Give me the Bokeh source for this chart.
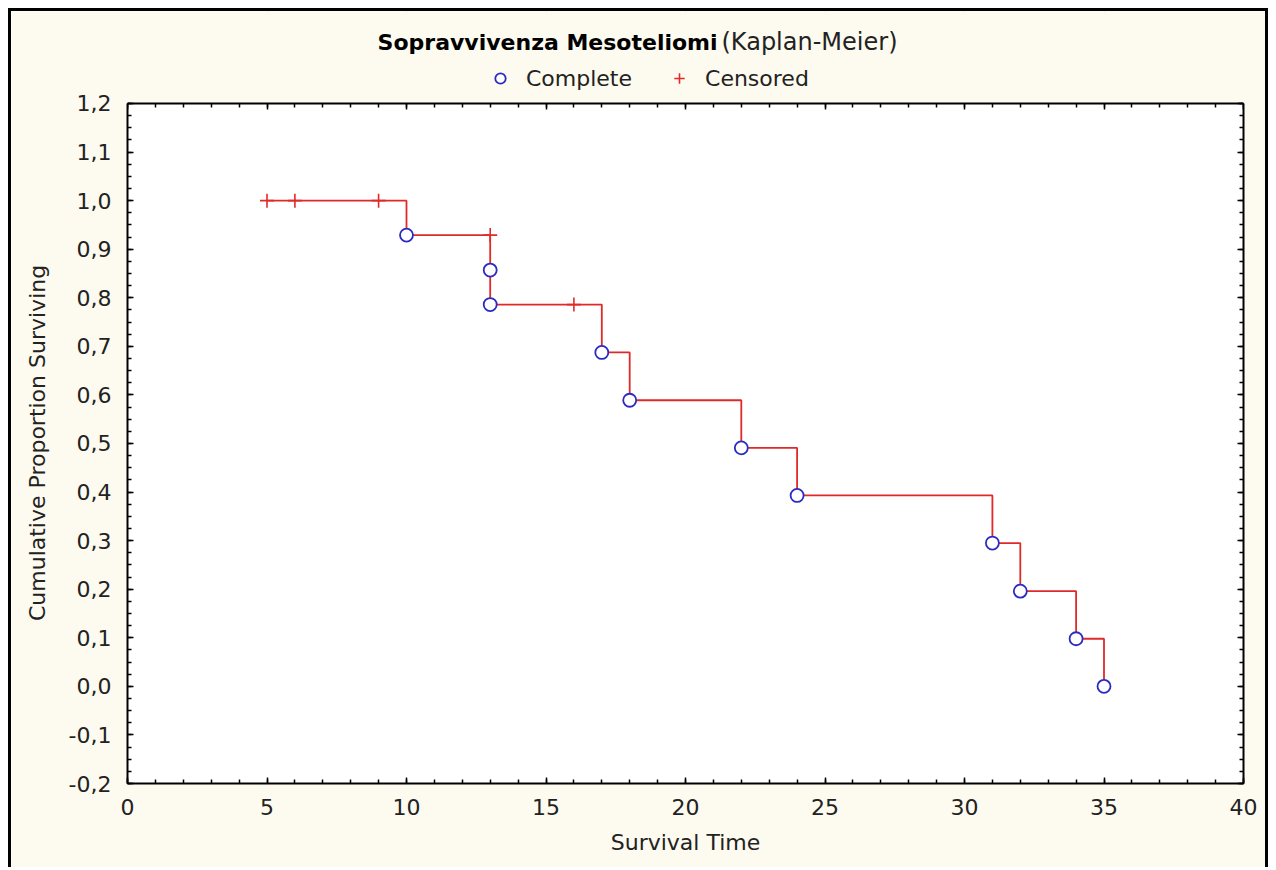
from bokeh.plotting import figure
from bokeh.models import (Range1d, LinearAxis, FixedTicker, CustomJSTickFormatter,
                          Legend, LegendItem, Label)
from bokeh.embed import file_html
from bokeh.resources import INLINE

# ---- data ----
time_complete = [10, 13, 13, 17, 18, 22, 24, 31, 32, 34, 35]
surv_complete = [0.929, 0.857, 0.786, 0.6875, 0.589, 0.491, 0.393, 0.295, 0.196, 0.098, 0.0]
time_censored = [5, 6, 9, 13, 16]
surv_censored = [1.0, 1.0, 1.0, 0.929, 0.786]
start_time = 5
start_surv = 1.0

x_major_ticks = [0, 5, 10, 15, 20, 25, 30, 35, 40]
x_minor_ticks = list(range(0, 41))
y_major_ticks = [-0.2, -0.1, 0.0, 0.1, 0.2, 0.3, 0.4, 0.5, 0.6, 0.7, 0.8, 0.9, 1.0, 1.1, 1.2]
y_minor_ticks = [round(-0.2 + 0.025 * i, 3) for i in range(57)]

x_min, x_max = 0, 40
y_min, y_max = -0.2, 1.2

title_bold = "Sopravvivenza Mesoteliomi"
title_rest = "(Kaplan-Meier)"
x_label = "Survival Time"
y_label = "Cumulative Proportion Surviving"

# step path built from the events
step_x = [start_time]
step_y = [start_surv]
prev = start_surv
for t, s in zip(time_complete, surv_complete):
    step_x += [t, t]
    step_y += [prev, s]
    prev = s

FONT = "DejaVu Sans"
FS = "22px"
BG = "#FDFAEF"
RED = "#E02A2A"
BLUE = "#2B2BC4"
TXT = "#222222"

# frame extends above the plot box so title/legend live inside it
y_top = 1.3894

p = figure(width=1260, height=859, output_backend="svg", toolbar_location=None,
           x_range=Range1d(x_min, x_max), y_range=Range1d(y_min, y_top),
           min_border_left=116, min_border_right=28, min_border_top=0, min_border_bottom=87,
           background_fill_color=BG, border_fill_color=BG,
           styles={"margin": "8px 0px 0px 8px",
                   "border-top": "3px solid black", "border-left": "3px solid black",
                   "border-right": "3px solid black"})
p.outline_line_alpha = 0

# white plotting box
p.quad(left=[x_min], right=[x_max], bottom=[y_min], top=[y_max],
       fill_color="white", line_color=None)

xt = FixedTicker(ticks=x_major_ticks, minor_ticks=x_minor_ticks)
yt = FixedTicker(ticks=y_major_ticks, minor_ticks=y_minor_ticks)
yfmt = CustomJSTickFormatter(code="return tick.toFixed(1).replace('.', ',');")
blank = CustomJSTickFormatter(code="return '';")

def style_axis(ax):
    ax.axis_line_color = "black"
    ax.axis_line_width = 2
    ax.major_tick_in = 6
    ax.major_tick_out = 0
    ax.minor_tick_in = 4
    ax.minor_tick_out = 0
    ax.major_tick_line_color = "black"
    ax.minor_tick_line_color = "black"
    ax.major_tick_line_width = 1.5
    ax.minor_tick_line_width = 1.5
    ax.major_label_text_font = FONT
    ax.major_label_text_font_size = FS
    ax.major_label_text_color = TXT
    ax.axis_label_text_font = FONT
    ax.axis_label_text_font_size = FS
    ax.axis_label_text_font_style = "normal"
    ax.axis_label_text_color = TXT

p.xaxis.ticker = xt
p.yaxis.ticker = yt
p.yaxis.formatter = yfmt
p.yaxis.bounds = (y_min, y_max)
p.xaxis.axis_label = x_label
# non-breaking padding keeps the label centred on the plot box, not the taller frame
p.yaxis.axis_label = y_label + "\u00a0" * 13
for ax in p.xaxis + p.yaxis:
    style_axis(ax)
p.xaxis.major_label_standoff = 15
p.xaxis.axis_label_standoff = 12
p.yaxis.major_label_standoff = 16
p.yaxis.axis_label_standoff = 16

top_ax = LinearAxis(ticker=xt, formatter=blank, fixed_location=y_max)
right_ax = LinearAxis(ticker=yt, formatter=blank, bounds=(y_min, y_max))
style_axis(top_ax)
style_axis(right_ax)
p.add_layout(top_ax, "above")
p.add_layout(right_ax, "right")

p.xgrid.ticker = xt
p.ygrid.ticker = yt
for g in (p.xgrid, p.ygrid):
    g.grid_line_color = "#a8a8a8"
    g.grid_line_dash = "1 2"
    g.grid_line_width = 1

# cream band above the plot box hides the grid there
p.quad(left=[x_min], right=[x_max], bottom=[y_max], top=[y_top],
       fill_color=BG, line_color=None)

p.line(step_x, step_y, line_color=RED, line_width=1.8)
r_cens = p.scatter(time_censored, surv_censored, marker="cross", size=14,
                   line_color=RED, line_width=1.6)
r_comp = p.scatter(time_complete, surv_complete, marker="circle", size=13,
                   line_color=BLUE, fill_color="white", line_width=1.8)

legend = Legend(items=[LegendItem(label="Complete", renderers=[r_comp]),
                       LegendItem(label="Censored", renderers=[r_cens])],
                orientation="horizontal", location=(360, 692), padding=0, margin=0,
                spacing=34, border_line_alpha=0, background_fill_alpha=0,
                label_text_font=FONT, label_text_font_size=FS, label_text_color=TXT,
                label_standoff=13, glyph_width=26, glyph_height=26)
p.add_layout(legend)

p.add_layout(Label(x=21.15, y=1.3256, text=title_bold, text_align="right",
                   text_baseline="middle", text_font=FONT, text_font_size=FS,
                   text_font_style="bold", text_color="black"))
p.add_layout(Label(x=21.29, y=1.3256, text=title_rest, text_align="left",
                   text_baseline="middle", text_font=FONT, text_font_size="24px",
                   text_font_style="normal", text_color=TXT))

open("out.html", "w").write(file_html(p, INLINE))
